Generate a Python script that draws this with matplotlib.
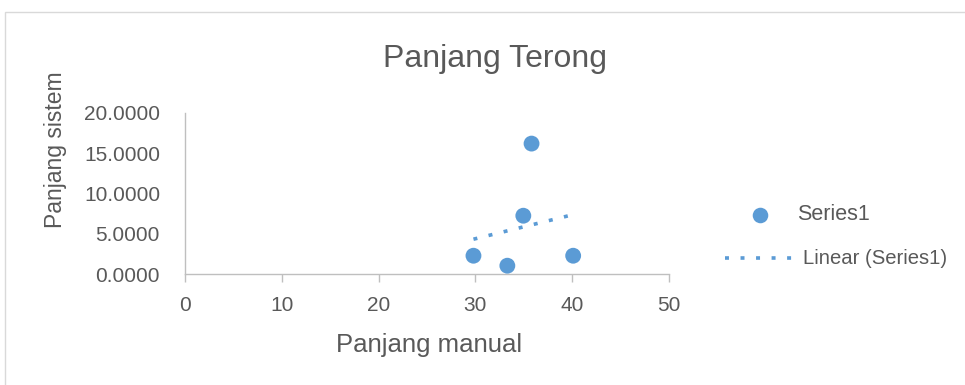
import matplotlib
matplotlib.use("Agg")
import matplotlib.pyplot as plt
from matplotlib.patches import Rectangle
from matplotlib.lines import Line2D
import numpy as np

# Measurements: manual length vs. length from the system
panjang_manual = [29.8, 33.3, 34.95, 35.8, 40.1]
panjang_sistem = [2.27, 1.03, 7.24, 16.2, 2.27]
x_ticks = [0, 10, 20, 30, 40, 50]
y_ticks = [0, 5, 10, 15, 20]
y_tick_marks = [0, 10, 20]

BLUE = "#5B9BD5"
TEXT = "#595959"
AXIS = "#BFBFBF"
W, H = 965, 385
DOTS = (1.1, 3.2)

plt.rcParams["font.family"] = ["Liberation Sans", "DejaVu Sans"]

fig = plt.figure(figsize=(W / 100, H / 100), dpi=100)


def fx(px):
    return px / W


def fy(py):
    return 1 - py / H


# Chart area outline
fig.patches.append(Rectangle((fx(5), -0.1), 1.2, fy(12) + 0.1,
                             transform=fig.transFigure, fill=False,
                             edgecolor="#D9D9D9", linewidth=1.0))

ax = fig.add_axes([fx(185), fy(274), (669 - 185) / W, (274 - 113) / H])
ax.set_xlim(0, 50)
ax.set_ylim(0, 20)

ax.scatter(panjang_manual, panjang_sistem, s=130, color=BLUE, zorder=3,
           edgecolors="none")

# Least-squares linear trend over the measured range
slope, intercept = np.polyfit(panjang_manual, panjang_sistem, 1)
xs = np.array([min(panjang_manual), max(panjang_manual)])
ax.plot(xs, slope * xs + intercept, color=BLUE, linewidth=2.6,
        dashes=DOTS, dash_capstyle="butt", zorder=2)

for side in ["right", "top"]:
    ax.spines[side].set_visible(False)
for side in ["left", "bottom"]:
    ax.spines[side].set_color(AXIS)
    ax.spines[side].set_linewidth(1.0)

ax.set_xticks(x_ticks)
ax.set_yticks(y_ticks)
ax.set_yticklabels([f"{v:.4f}" for v in y_ticks])
ax.set_yticks(y_tick_marks, minor=True)
ax.tick_params(axis="x", colors=AXIS, length=6, width=1.0, labelcolor=TEXT,
               labelsize=15, pad=10)
ax.tick_params(axis="y", which="major", length=0, labelcolor=TEXT,
               labelsize=15, pad=18)
ax.tick_params(axis="y", which="minor", length=6, width=1.0, colors=AXIS)

# Axis titles and chart title
fig.text(fx(429), fy(352), "Panjang manual", fontsize=18.5, color=TEXT,
         ha="center", va="baseline")
fig.text(fx(62), fy(150), "Panjang sistem", fontsize=16.5, color=TEXT,
         ha="center", va="baseline", rotation=90, rotation_mode="anchor")
fig.text(fx(495), fy(67), "Panjang Terong", fontsize=23, color=TEXT,
         ha="center", va="baseline")

# Legend
fig.add_artist(Line2D([fx(760)], [fy(215)], linestyle="none", marker="o",
                      markersize=11.2, color=BLUE, markeredgewidth=0,
                      transform=fig.transFigure))
fig.add_artist(Line2D([fx(725), fx(794)], [fy(258), fy(258)], color=BLUE,
                      linewidth=2.6, dashes=DOTS, dash_capstyle="butt",
                      transform=fig.transFigure))
fig.text(fx(797), fy(215), "Series1", fontsize=15.5, color=TEXT,
         ha="left", va="center")
fig.text(fx(803), fy(258), "Linear (Series1)", fontsize=14.6, color=TEXT,
         ha="left", va="center")

fig.savefig("out.png", dpi=100)
